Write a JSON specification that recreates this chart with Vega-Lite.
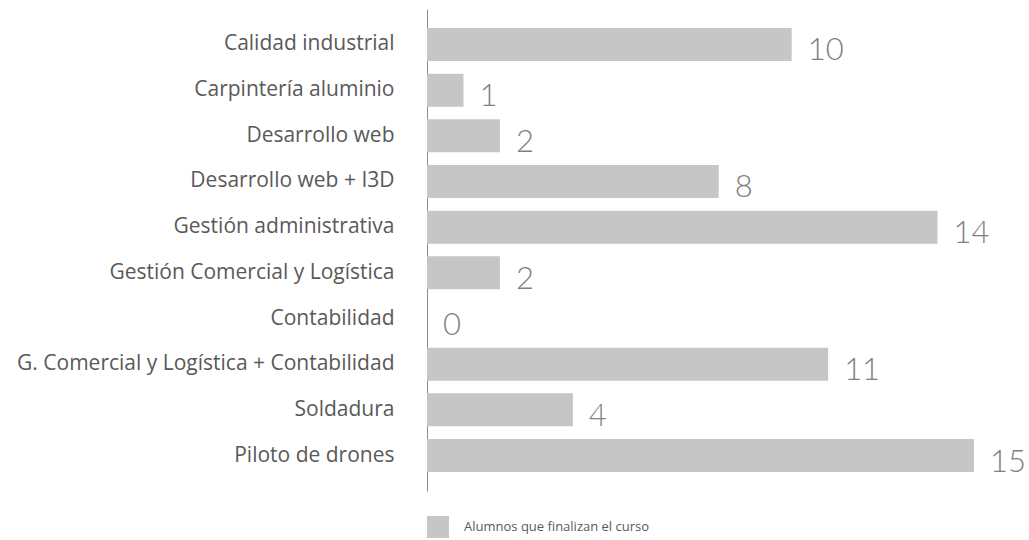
{
  "$schema": "https://vega.github.io/schema/vega-lite/v6.json",
  "autosize": {"type": "none"},
  "width": 547,
  "height": 482,
  "padding": {"left": 427, "top": 9, "right": 55, "bottom": 49},
  "background": "white",
  "config": {"view": {"stroke": null}},
  "data": {
    "values": [
      {"curso": "Calidad industrial", "alumnos": 10, "serie": "Alumnos que finalizan el curso"},
      {"curso": "Carpintería aluminio", "alumnos": 1, "serie": "Alumnos que finalizan el curso"},
      {"curso": "Desarrollo web", "alumnos": 2, "serie": "Alumnos que finalizan el curso"},
      {"curso": "Desarrollo web + I3D", "alumnos": 8, "serie": "Alumnos que finalizan el curso"},
      {"curso": "Gestión administrativa", "alumnos": 14, "serie": "Alumnos que finalizan el curso"},
      {"curso": "Gestión Comercial y Logística", "alumnos": 2, "serie": "Alumnos que finalizan el curso"},
      {"curso": "Contabilidad", "alumnos": 0, "serie": "Alumnos que finalizan el curso"},
      {"curso": "G. Comercial y Logística + Contabilidad", "alumnos": 11, "serie": "Alumnos que finalizan el curso"},
      {"curso": "Soldadura", "alumnos": 4, "serie": "Alumnos que finalizan el curso"},
      {"curso": "Piloto de drones", "alumnos": 15, "serie": "Alumnos que finalizan el curso"}
    ]
  },
  "encoding": {
    "y": {
      "field": "curso",
      "type": "nominal",
      "sort": null,
      "scale": {"paddingInner": 0.277, "paddingOuter": 0.415},
      "axis": {
        "title": null,
        "ticks": false,
        "domain": true,
        "domainColor": "#8c8c8c",
        "domainWidth": 1,
        "labelPadding": 33,
        "labelFont": "Open Sans",
        "labelFontSize": 21,
        "labelColor": "#595959",
        "labelLimit": 500
      }
    },
    "x": {
      "field": "alumnos",
      "type": "quantitative",
      "scale": {"domain": [0, 15], "nice": false},
      "axis": null
    }
  },
  "layer": [
    {
      "mark": {"type": "bar", "stroke": null},
      "encoding": {
        "color": {
          "field": "serie",
          "type": "nominal",
          "scale": {"range": ["#c6c6c6"]},
          "legend": {
            "title": null,
            "orient": "none",
            "legendX": 0,
            "legendY": 507,
            "symbolType": "square",
            "symbolSize": 484,
            "symbolStrokeWidth": 0,
            "labelFont": "Open Sans",
            "labelFontSize": 13,
            "labelColor": "#595959",
            "labelOffset": 15,
            "labelLimit": 400
          }
        }
      }
    },
    {
      "mark": {
        "type": "text",
        "align": "left",
        "baseline": "middle",
        "dx": 16,
        "dy": 7,
        "font": "Lato",
        "fontWeight": 300,
        "fontSize": 31,
        "color": "#808080"
      },
      "encoding": {
        "text": {"field": "alumnos", "type": "quantitative"}
      }
    }
  ]
}
